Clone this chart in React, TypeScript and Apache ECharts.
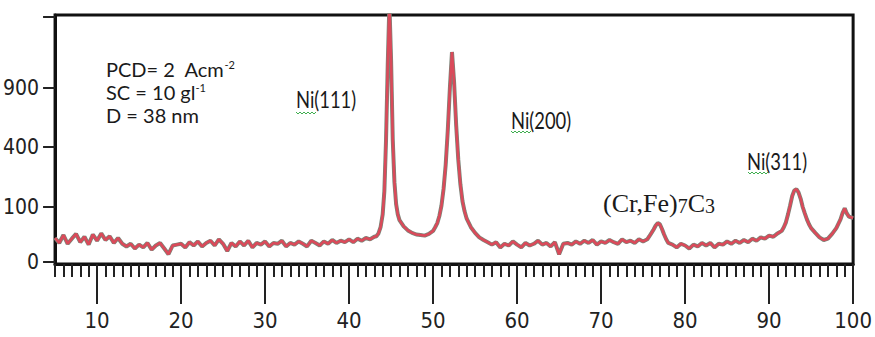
import React, { useEffect, useRef } from "react";
import * as echarts from "echarts";

// 2θ (degrees) and diffracted intensity (counts)
const twoTheta = [
  5, 5.5, 6, 6.5, 7, 7.5, 8, 8.5, 9, 9.5,
  10, 10.5, 11, 11.5, 12, 12.5, 13, 13.5, 14, 14.5,
  15, 15.5, 16, 16.5, 17, 17.5, 18, 18.5, 19, 19.5,
  20, 20.5, 21, 21.5, 22, 22.5, 23, 23.5, 24, 24.5,
  25, 25.5, 26, 26.5, 27, 27.5, 28, 28.5, 29, 29.5,
  30, 30.5, 31, 31.5, 32, 32.5, 33, 33.5, 34, 34.5,
  35, 35.5, 36, 36.5, 37, 37.5, 38, 38.5, 39, 39.5,
  40, 40.5, 41, 41.5, 42, 42.5, 43, 43.25, 43.5, 43.75,
  44, 44.2, 44.4, 44.6, 44.8, 45, 45.2, 45.4, 45.6, 45.8,
  46, 46.5, 47, 47.5, 48, 48.5, 49, 49.5, 50, 50.25,
  50.5, 50.75, 51, 51.25, 51.5, 51.75, 52, 52.25, 52.5, 52.75,
  53, 53.25, 53.5, 53.75, 54, 54.5, 55, 55.5, 56, 56.5,
  57, 57.5, 58, 58.5, 59, 59.5, 60, 60.5, 61, 61.5,
  62, 62.5, 63, 63.5, 64, 64.5, 65, 65.5, 66, 66.5,
  67, 67.5, 68, 68.5, 69, 69.5, 70, 70.5, 71, 71.5,
  72, 72.5, 73, 73.5, 74, 74.5, 75, 75.5, 75.75, 76,
  76.25, 76.5, 76.75, 77, 77.25, 77.5, 77.75, 78, 78.5, 79,
  79.5, 80, 80.5, 81, 81.5, 82, 82.5, 83, 83.5, 84,
  84.5, 85, 85.5, 86, 86.5, 87, 87.5, 88, 88.5, 89,
  89.5, 90, 90.5, 91, 91.5, 91.75, 92, 92.25, 92.5, 92.75,
  93, 93.25, 93.5, 93.75, 94, 94.25, 94.5, 94.75, 95, 95.5,
  96, 96.5, 97, 97.5, 98, 98.5, 98.75, 99, 99.25, 99.5,
  100,
];
const counts = [
  19, 12, 24, 11, 18, 26, 13, 21, 10, 25,
  15, 27, 16, 22, 12, 19, 11, 8, 11, 6,
  10, 7, 12, 5, 9, 12, 6, 2, 9, 10,
  11, 7, 13, 9, 14, 8, 12, 15, 9, 17,
  11, 4, 12, 8, 14, 9, 15, 7, 12, 10,
  14, 8, 12, 11, 15, 8, 12, 10, 14, 11,
  8, 15, 12, 9, 14, 11, 16, 12, 15, 13,
  17, 13, 18, 15, 19, 17, 21, 22, 27, 40,
  75, 160, 450, 1100, 1750, 1150, 450, 200, 110, 75,
  58, 42, 33, 28, 25, 24, 23, 26, 32, 40,
  50, 70, 105, 170, 290, 520, 900, 1230, 950, 560,
  320, 190, 120, 85, 62, 40, 28, 20, 16, 13,
  10, 13, 7, 11, 9, 14, 10, 7, 12, 9,
  11, 15, 10, 12, 8, 13, 2, 11, 12, 10,
  14, 11, 15, 12, 16, 10, 14, 12, 16, 13,
  11, 17, 13, 15, 12, 17, 14, 17, 22, 28,
  35, 44, 50, 47, 36, 25, 17, 12, 10, 7,
  11, 9, 6, 10, 8, 12, 9, 12, 7, 11,
  10, 14, 11, 15, 12, 16, 13, 18, 15, 20,
  18, 23, 21, 27, 32, 40, 52, 75, 105, 140,
  163, 168, 155, 130, 100, 78, 60, 47, 38, 28,
  20, 16, 18, 26, 38, 60, 80, 95, 78, 68,
  64,
];

const xTickValues = [10, 20, 30, 40, 50, 60, 70, 80, 90, 100];
const yTickIntensities = [0, 100, 400, 900, 1600];
const yTickLabels = ["0", "100", "400", "900", ""];

// square-root style intensity axis: knots (sqrt counts) -> axis units
const sqrtKnots = yTickIntensities.map((v) => Math.sqrt(v));
const axisKnots = [2, 57, 117, 176, 247];

function toAxis(I: number): number {
  const s = Math.sqrt(Math.max(I, 0));
  for (let k = 1; k < sqrtKnots.length; k++) {
    if (s <= sqrtKnots[k] || k === sqrtKnots.length - 1) {
      const t = (s - sqrtKnots[k - 1]) / (sqrtKnots[k] - sqrtKnots[k - 1]);
      return axisKnots[k - 1] + t * (axisKnots[k] - axisKnots[k - 1]);
    }
  }
  return 0;
}

function wavy(x0: number, x1: number, y: number) {
  const pts: number[][] = [];
  let up = true;
  for (let x = x0; x <= x1; x += 2) {
    pts.push([x, up ? y : y + 2]);
    up = !up;
  }
  return pts;
}

const numFont = "'Liberation Sans Narrow','DejaVu Sans Condensed','Roboto Condensed','Liberation Sans',sans-serif";
const labelFont = "Lato, 'Open Sans', sans-serif";
const serifFont = "'Liberation Serif','DejaVu Serif',serif";

export default function App() {
  const ref = useRef<HTMLDivElement>(null);
  useEffect(() => {
    if (!ref.current) return;
    const chart = echarts.init(ref.current, null, { renderer: "svg" });
    const data = twoTheta.map((x, i) => [x, toAxis(counts[i])]);
    const minorTicks: number[] = [];
    for (let v = 5; v <= 100; v++) minorTicks.push(v);

    chart.setOption({
      animation: false,
      backgroundColor: "#ffffff",
      grid: {
        left: 50,
        right: 9,
        top: 15,
        bottom: 73,
        show: true,
        borderColor: "#111",
        borderWidth: 3,
        backgroundColor: "#ffffff",
      },
      xAxis: [
        {
          type: "value",
          min: 5,
          max: 100,
          position: "bottom",
          axisLine: { show: true, lineStyle: { color: "#111", width: 3 } },
          axisTick: {
            show: true,
            customValues: xTickValues,
            length: 40,
            lineStyle: { color: "#222", width: 2 },
          },
          axisLabel: {
            show: true,
            customValues: xTickValues,
            margin: 45,
            fontSize: 22,
            fontFamily: numFont,
            color: "#222",
          },
          splitLine: { show: false },
        },
        {
          type: "value",
          min: 5,
          max: 100,
          position: "bottom",
          axisLine: { show: false },
          axisTick: {
            show: true,
            customValues: minorTicks,
            length: 13,
            lineStyle: { color: "#222", width: 2 },
          },
          axisLabel: { show: false },
          splitLine: { show: false },
        },
      ],
      yAxis: {
        type: "value",
        min: 0,
        max: 249,
        axisLine: { show: true, lineStyle: { color: "#111", width: 3 } },
        axisTick: {
          show: true,
          customValues: axisKnots,
          length: 12,
          lineStyle: { color: "#222", width: 2 },
        },
        axisLabel: {
          show: true,
          customValues: axisKnots,
          margin: 16,
          fontSize: 21,
          fontFamily: numFont,
          color: "#222",
          formatter: (v: number) => {
            let best = 0;
            for (let i = 1; i < axisKnots.length; i++) {
              if (Math.abs(axisKnots[i] - v) < Math.abs(axisKnots[best] - v)) best = i;
            }
            return yTickLabels[best];
          },
        },
        splitLine: { show: false },
      },
      series: [
        {
          type: "line",
          xAxisIndex: 0,
          data,
          showSymbol: false,
          clip: true,
          lineStyle: { color: "#7b8478", width: 4 },
          z: 2,
        },
        {
          type: "line",
          xAxisIndex: 0,
          data,
          showSymbol: false,
          clip: true,
          lineStyle: { color: "#da4a5a", width: 2.6 },
          z: 3,
        },
      ],
      graphic: [
        {
          type: "text",
          x: 106,
          y: 69,
          style: {
            text: "PCD= 2  Acm{s|-2}",
            fontSize: 20,
            fontFamily: labelFont,
            fill: "#1a1a1a",
            verticalAlign: "middle",
            textVerticalAlign: "middle",
            rich: { s: { fontSize: 11, verticalAlign: "top", fontFamily: labelFont, fill: "#1a1a1a" } },
          },
        },
        {
          type: "text",
          x: 106,
          y: 92,
          style: {
            text: "SC = 10 gl{s|-1}",
            fontSize: 20,
            fontFamily: labelFont,
            fill: "#1a1a1a",
            verticalAlign: "middle",
            textVerticalAlign: "middle",
            rich: { s: { fontSize: 11, verticalAlign: "top", fontFamily: labelFont, fill: "#1a1a1a" } },
          },
        },
        {
          type: "text",
          x: 106,
          y: 115,
          style: {
            text: "D = 38 nm",
            fontSize: 20,
            fontFamily: labelFont,
            fill: "#1a1a1a",
            verticalAlign: "middle",
            textVerticalAlign: "middle",
          },
        },
        {
          type: "text",
          x: 296,
          y: 99,
          scaleX: 0.8,
          style: {
            text: "Ni(111)",
            fontSize: 23,
            fontFamily: labelFont,
            fill: "#1a1a1a",
            verticalAlign: "middle",
            textVerticalAlign: "middle",
          },
        },
        {
          type: "text",
          x: 511,
          y: 120,
          scaleX: 0.8,
          style: {
            text: "Ni(200)",
            fontSize: 23,
            fontFamily: labelFont,
            fill: "#1a1a1a",
            verticalAlign: "middle",
            textVerticalAlign: "middle",
          },
        },
        {
          type: "text",
          x: 747,
          y: 161,
          scaleX: 0.8,
          style: {
            text: "Ni(311)",
            fontSize: 23,
            fontFamily: labelFont,
            fill: "#1a1a1a",
            verticalAlign: "middle",
            textVerticalAlign: "middle",
          },
        },
        {
          type: "text",
          x: 603,
          y: 203,
          style: {
            text: "(Cr,Fe){b|7}C{b|3}",
            fontSize: 26,
            fontFamily: serifFont,
            fill: "#1a1a1a",
            verticalAlign: "middle",
            textVerticalAlign: "middle",
            rich: {
              b: { fontSize: 20, verticalAlign: "bottom", fontFamily: serifFont, fill: "#1a1a1a" },
            },
          },
        },
        { type: "polyline", shape: { points: wavy(296, 316, 112) }, style: { stroke: "#3fae4f", lineWidth: 1, fill: "none" } },
        { type: "polyline", shape: { points: wavy(511, 531, 131) }, style: { stroke: "#3fae4f", lineWidth: 1, fill: "none" } },
        { type: "polyline", shape: { points: wavy(748, 768, 172) }, style: { stroke: "#3fae4f", lineWidth: 1, fill: "none" } },
      ],
    });
    return () => chart.dispose();
  }, []);
  return (
    <div
      ref={ref}
      style={{ position: "absolute", left: 0, top: 0, width: 875, height: 337 }}
    />
  );
}
